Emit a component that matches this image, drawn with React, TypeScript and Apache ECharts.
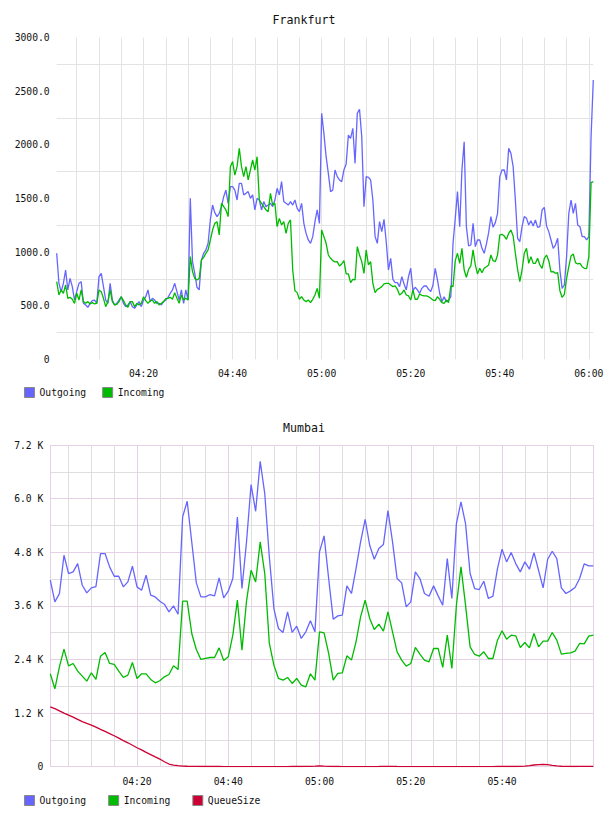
import React, { useEffect, useRef } from 'react';
import * as echarts from 'echarts';

const FONT = '"DejaVu Sans Mono", "Liberation Mono", monospace';

// Frankfurt: samples every 30 s, starting 04:00:30 (minutes after 04:00)
const fraStartMin = 0.5;
const fraStepMin = 0.5;
const fraOutgoing = [
  989, 709, 631, 709, 833, 647, 755, 678, 553, 631,
  709, 724, 522, 507, 485, 522, 547, 553, 522, 771,
  802, 678, 553, 522, 709, 553, 507, 522, 553, 584,
  522, 491, 507, 538, 491, 476, 507, 538, 491, 553,
  584, 647, 538, 569, 553, 522, 522, 507, 538, 553,
  578, 616, 647, 709, 631, 553, 647, 522, 647, 553,
  1502, 911, 802, 672, 647, 926, 989, 1020, 1082, 1300,
  1439, 1368, 1331, 1362, 1424, 1517, 1579, 1455, 1610, 1610,
  1579, 1486, 1642, 1642, 1533, 1548, 1564, 1502, 1533, 1393,
  1502, 1486, 1393, 1471, 1424, 1439, 1455, 1424, 1486, 1595,
  1533, 1657, 1471, 1455, 1439, 1471, 1439, 1486, 1408, 1377,
  1455, 1268, 1175, 1113, 1082, 1144, 1284, 1393, 1268, 2294,
  2108, 1890, 1735, 1564,
  1579, 1766, 1704, 1673, 1657, 1766, 1822, 2092, 2061, 2155,
  1828, 2294, 2332, 2077, 1424, 1704, 1698, 1673, 1486, 1144,
  1082, 1284, 1191, 1306, 1097, 833, 942, 746, 715, 715,
  678, 771, 703, 647, 771, 849, 640, 672, 647, 616,
  662, 684, 684, 653, 631, 693, 849, 740, 616, 538,
  584, 538, 553, 584, 1082, 1315, 1564, 1237, 1766, 2030,
  1237, 1057, 1066, 1268, 1051, 1113, 1113, 1035, 989, 1076,
  1181, 1331, 1231, 1275, 1362, 1704, 1766, 1766, 1673, 1968,
  1921, 1797, 1486, 1129, 1097, 1237, 1331, 1315, 1253, 1293,
  1244, 1300, 1231, 1237, 1393, 1418, 1244, 1191, 1113, 1035,
  1066, 1129, 833, 662, 693, 958, 1362, 1486, 1362, 1455,
  1253, 1237, 1144, 1144, 1113, 1144, 2077, 2605,
];
const fraIncoming = [
  724, 600, 647, 616, 693, 569, 578, 560, 522, 616,
  553, 647, 538, 522, 538, 516, 529, 516, 522, 647,
  631, 569, 491, 538, 647, 538, 507, 513, 538, 584,
  547, 507, 485, 538, 538, 491, 522, 507, 522, 584,
  547, 522, 547, 553, 522, 538, 507, 522, 538, 566,
  569, 578, 560, 622, 569, 522, 600, 553, 569, 553,
  958, 818, 755, 740, 755, 926, 951, 989, 1020, 1113,
  1206, 1268, 1284, 1160, 1455, 1424, 1393, 1331, 1797, 1844,
  1719, 1797, 1968, 1797, 1704, 1797, 1673, 1766, 1859, 1766,
  1890, 1486, 1455, 1424, 1393, 1377, 1548, 1439, 1455, 1237,
  1315, 1253, 1284, 1175, 1268, 1300, 833, 640, 622, 560,
  584, 553, 538, 553, 529, 560, 600, 662, 569, 1206,
  1144, 1082, 973, 942,
  920, 908, 911, 871, 889, 920, 796, 796, 715, 746,
  740, 1051, 973, 911, 802, 1020, 880, 911, 709, 622,
  653, 662, 678, 703, 709, 709, 693, 678, 684, 653,
  600, 616, 647, 600, 591, 553, 647, 560, 560, 609,
  597, 591, 591, 584, 569, 553, 547, 584, 560, 529,
  522, 553, 529, 684, 678, 920, 989, 895, 1035, 833,
  765, 839, 871, 1020, 880, 796, 849, 808, 849, 864,
  880, 973, 920, 911, 973, 1160, 1166, 1150, 1119, 1175,
  1206, 1150, 989, 839, 724, 833, 989, 1035, 895, 958,
  895, 895, 942, 880, 849, 942, 973, 920, 815, 818,
  802, 808, 640, 578, 606, 755, 864, 964, 982, 902,
  889, 895, 864, 849, 846, 958, 1648, 1657,
];

// Mumbai: samples every minute, starting 04:01
const mumStartMin = 1;
const mumStepMin = 1;
const mumOutgoing = [
  4174, 3690, 3875, 4733, 4323, 4360, 4546, 4062, 3890, 4002,
  4032, 4770, 4770, 4472, 4263, 4263, 4025, 4136, 4487, 4025,
  3950, 4286, 3838, 3800, 3704, 3637, 3466, 3600, 3413, 5590,
  5940, 5030, 4114, 3800, 3800, 3853, 3823, 4226, 3779, 3928,
  4211, 5590, 3987, 5030, 6313, 5716, 6834, 6111, 4695, 3540,
  3093, 3004, 3466, 3004, 3145, 2870, 3018, 3264, 3018, 4807,
  5165, 4211, 3302, 3376, 3391, 4047, 3876, 4435, 5031, 5538,
  4956, 4643, 4882, 4971, 5731, 5031, 4211, 4114, 3577, 3689,
  4360, 4211, 3876, 3816, 4047, 3823, 3615, 4658, 3764, 5441,
  5925, 5441, 4323, 3987, 3965, 4151, 3764, 3816, 4435, 4867,
  4584, 4792, 4546, 4360, 4584, 4420, 4792, 4397, 4002, 4643,
  4822, 4658, 4002, 3876, 3935, 4010, 4211, 4539, 4494, 4494,
];
const mumIncoming = [
  2079, 1744, 2236, 2631, 2258, 2310, 2139, 2027, 1915, 2102,
  1953, 2474, 2556, 2310, 2288, 2139, 1997, 2050, 2333, 1975,
  2079, 2079, 1953, 1878, 1923, 2012, 2064, 2258, 2176, 3704,
  3704, 2981, 2623, 2400, 2422, 2444, 2444, 2660, 2377, 2459,
  2944, 3727, 2608, 3704, 4397, 4136, 5030, 4323, 2758, 2273,
  1975, 1938, 1997, 1863, 1975, 1826, 1789, 2079, 1938, 3018,
  2996, 2534, 1938, 2087, 2102, 2482, 2385, 2795, 3354, 3727,
  3317, 3071, 3190, 3033, 3466, 3018, 2571, 2385, 2251, 2310,
  2668, 2519, 2385, 2348, 2646, 2646, 2221, 2944, 2199, 3615,
  4472, 3615, 2683, 2512, 2474, 2571, 2422, 2422, 2832, 3041,
  2855, 2944, 2929, 2668, 2780, 2661, 2981, 2683, 2810, 2810,
  3004, 2832, 2519, 2534, 2549, 2586, 2758, 2750, 2922, 2944,
];
const mumQueue = [
  1341, 1300, 1250, 1200, 1155, 1110, 1060, 1010, 970, 932,
  885, 835, 790, 740, 693, 640, 585, 535, 480, 425,
  375, 320, 270, 220, 171, 110, 60, 35, 22, 15,
  10, 8, 6, 5, 5, 4, 4, 4, 3, 3,
  3, 3, 3, 3, 3, 3, 3, 3, 3, 3,
  3, 3, 3, 4, 4, 5, 6, 8, 12, 18,
  12, 8, 5, 4, 3, 3, 3, 3, 3, 3,
  3, 3, 4, 6, 8, 6, 4, 3, 3, 3,
  3, 3, 3, 3, 3, 3, 3, 3, 3, 3,
  3, 3, 3, 3, 3, 3, 3, 3, 4, 5,
  4, 4, 5, 8, 15, 25, 38, 48, 52, 45,
  30, 18, 10, 6, 5, 5, 6, 8, 8, 6,
];

const seriesNames = ['Outgoing', 'Incoming', 'QueueSize'];
const seriesColors = ['#6666ff', '#00bb00', '#cc0033'];

const BASE_HOUR = 4;
const fmtTime = (m: number) => {
  const total = BASE_HOUR * 60 + m;
  const h = Math.floor(total / 60);
  const mm = Math.round(total % 60);
  return String(h).padStart(2, '0') + ':' + String(mm).padStart(2, '0');
};
const toPairs = (vals: number[], start: number, step: number) =>
  vals.map((v, i) => [start + i * step, v]);

const TXT = '#111';
const GRAY = '#e3e3e3';
const PURPLE = '#e6d0e6';
const MGRAY = '#dedede';

export default function App() {
  const ref = useRef<HTMLDivElement>(null);
  useEffect(() => {
    if (!ref.current) return;
    const chart = echarts.init(ref.current, undefined, { renderer: 'svg' });
    const fraEnd = fraStartMin + (fraOutgoing.length - 1) * fraStepMin;
    const mumEnd = mumStartMin + (mumOutgoing.length - 1) * mumStepMin;
    const labelStyle = { fontFamily: FONT, fontSize: 9.7, color: TXT };
    const lineSeries = (name: number, xi: number, data: number[], start: number, step: number) => ({
      type: 'line',
      name: seriesNames[name],
      xAxisIndex: xi,
      yAxisIndex: xi,
      data: toPairs(data, start, step),
      showSymbol: false,
      symbol: 'none',
      color: seriesColors[name],
      lineStyle: { width: 1.3, color: seriesColors[name] },
      emphasis: { disabled: true },
    });
    const option: any = {
      animation: false,
      textStyle: { fontFamily: FONT },
      title: [
        {
          text: 'Frankfurt', left: 'center', top: 14, padding: 0,
          textStyle: { fontFamily: FONT, fontSize: 11.6, fontWeight: 'normal', color: TXT, lineHeight: 12 },
        },
        {
          text: 'Mumbai', left: 'center', top: 422, padding: 0,
          textStyle: { fontFamily: FONT, fontSize: 11.6, fontWeight: 'normal', color: TXT, lineHeight: 12 },
        },
      ],
      legend: [
        {
          data: seriesNames.slice(0, 2), left: 24, top: 387, padding: 0, itemGap: 16,
          itemWidth: 10, itemHeight: 10, icon: 'rect',
          itemStyle: { borderColor: '#888', borderWidth: 1 },
          textStyle: { ...labelStyle, lineHeight: 10 },
          selectedMode: false,
        },
        {
          data: seriesNames, left: 24, top: 795, padding: 0, itemGap: 22,
          itemWidth: 10, itemHeight: 10, icon: 'rect',
          itemStyle: { borderColor: '#888', borderWidth: 1 },
          textStyle: { ...labelStyle, lineHeight: 10 },
          selectedMode: false,
        },
      ],
      grid: [
        { left: 56.7, top: 37.7, width: 536.6, height: 321.6 },
        { left: 50.3, top: 445, width: 543, height: 321.7 },
      ],
      xAxis: [
        {
          type: 'value', gridIndex: 0, min: fraStartMin, max: fraEnd, splitNumber: 24,
          axisLine: { show: false }, axisTick: { show: false },
          axisLabel: {
            ...labelStyle, margin: 8, lineHeight: 12,
            formatter: (v: number) => (v % 20 === 0 ? fmtTime(v) : ''),
          },
          splitLine: { show: true, showMinLine: false, showMaxLine: false, lineStyle: { color: GRAY, width: 1 } },
        },
        {
          type: 'value', gridIndex: 1, min: mumStartMin, max: mumEnd, splitNumber: 24,
          axisLine: { show: false }, axisTick: { show: false },
          axisLabel: {
            ...labelStyle, margin: 9, lineHeight: 12,
            formatter: (v: number) => (v % 20 === 0 && v < mumEnd ? fmtTime(v) : ''),
          },
          splitLine: { show: true, lineStyle: { color: [PURPLE, MGRAY, MGRAY, MGRAY], width: 1 } },
        },
      ],
      yAxis: [
        {
          type: 'value', gridIndex: 0, min: 0, max: 3000, interval: 250,
          axisLine: { show: false }, axisTick: { show: false },
          axisLabel: {
            ...labelStyle, margin: 7,
            formatter: (v: number) => (v % 500 === 0 ? (v === 0 ? '0' : v.toFixed(1)) : ''),
          },
          splitLine: { show: true, lineStyle: { color: ['rgba(0,0,0,0)', GRAY], width: 1 } },
        },
        {
          type: 'value', gridIndex: 1, min: 0, max: 7200, interval: 600,
          axisLine: { show: false }, axisTick: { show: false },
          axisLabel: {
            ...labelStyle, margin: 7,
            formatter: (v: number) => (v % 1200 === 0 ? (v === 0 ? '0' : (v / 1000).toFixed(1) + ' K') : ''),
          },
          splitLine: { show: true, lineStyle: { color: [PURPLE, MGRAY], width: 1 } },
        },
      ],
      series: [
        lineSeries(0, 0, fraOutgoing, fraStartMin, fraStepMin),
        lineSeries(1, 0, fraIncoming, fraStartMin, fraStepMin),
        lineSeries(0, 1, mumOutgoing, mumStartMin, mumStepMin),
        lineSeries(1, 1, mumIncoming, mumStartMin, mumStepMin),
        lineSeries(2, 1, mumQueue, mumStartMin, mumStepMin),
      ],
    };
    chart.setOption(option);
    return () => chart.dispose();
  }, []);
  return (
    <div
      ref={ref}
      style={{ position: 'absolute', left: 0, top: 0, width: 608, height: 816, background: '#fff' }}
    />
  );
}
